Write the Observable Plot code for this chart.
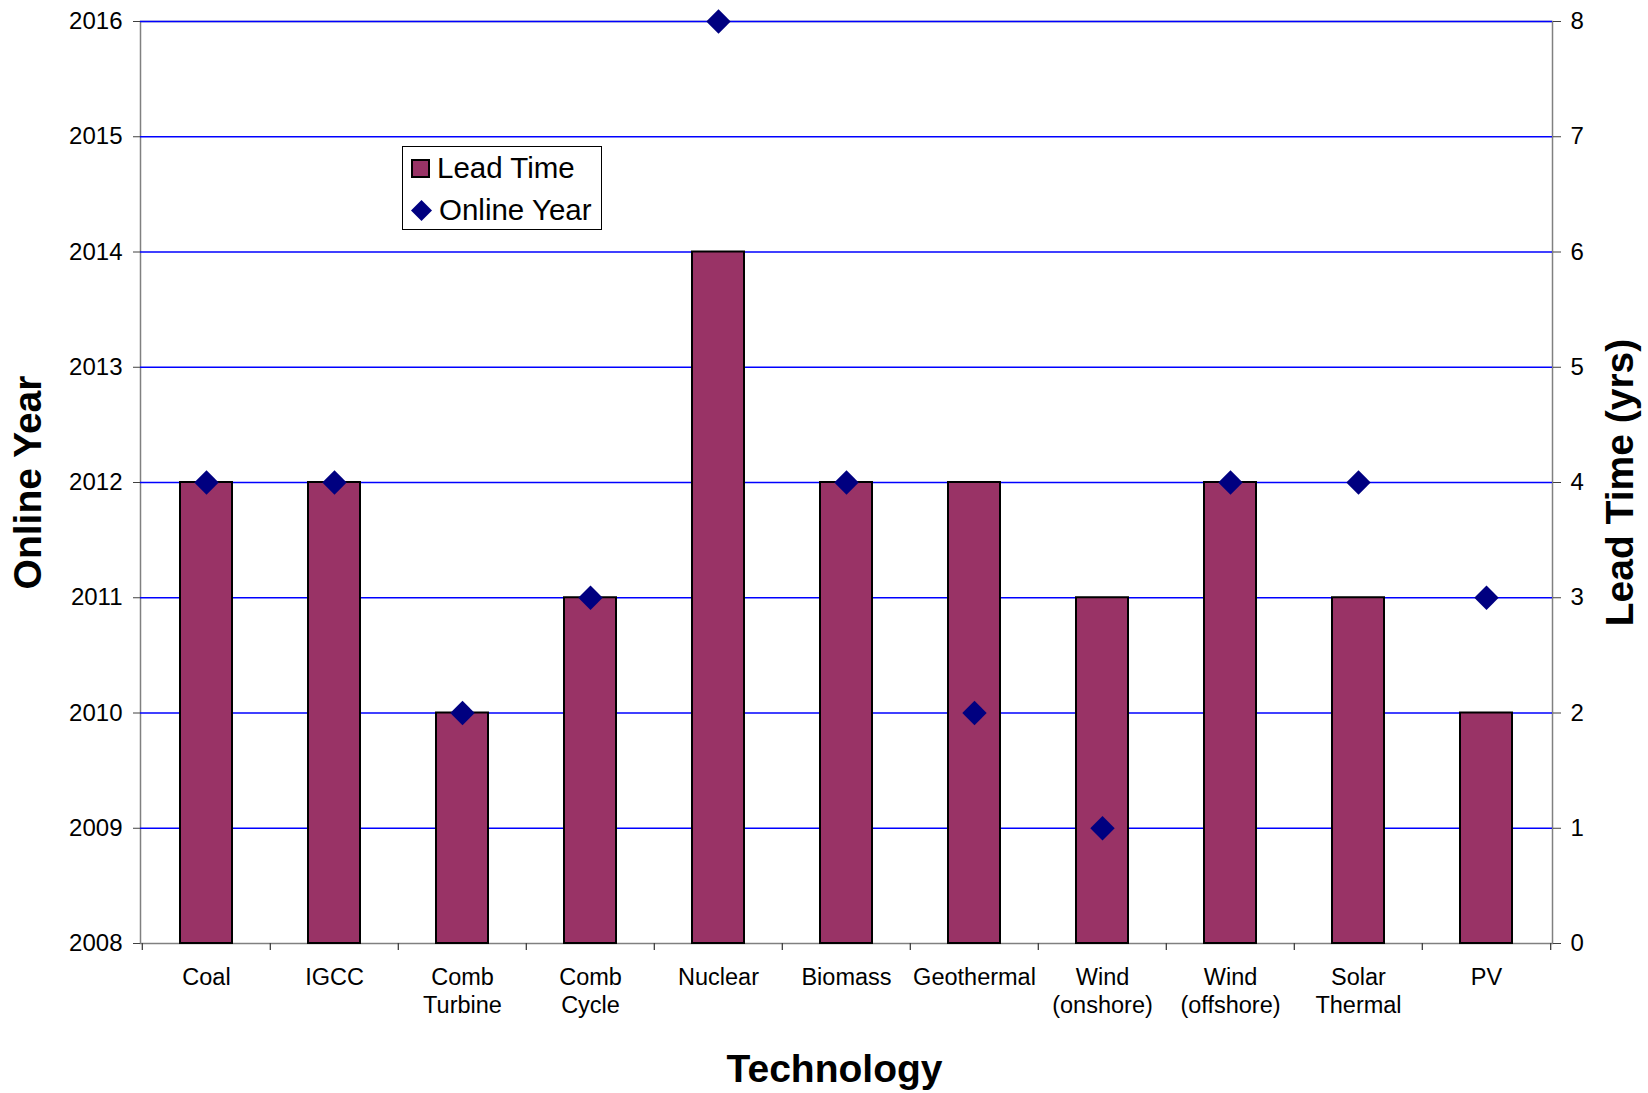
<!DOCTYPE html>
<html>
<head>
<meta charset="utf-8">
<script src="https://cdn.jsdelivr.net/npm/d3@7"></script>
<script src="https://cdn.jsdelivr.net/npm/@observablehq/plot@0.6"></script>
<style>
  html, body { margin: 0; padding: 0; background: #fff; }
  #wrap { position: relative; width: 1648px; height: 1093px; font-family: "Liberation Sans", Arial, sans-serif; }
  #legend { position: absolute; left: 402px; top: 146px; width: 200px; height: 84px; border: 1px solid #000; background: #fff; box-sizing: border-box; font-size: 29.5px; color: #000; }
  #legend .item { position: absolute; left: 8px; height: 34px; display: flex; align-items: center; white-space: nowrap; }
  #legend svg { display: block; margin-right: 7px; }
</style>
</head>
<body>
<div id="wrap">
  <div id="chart"></div>
  <div id="legend">
    <div class="item" style="top:4px;"><svg width="19" height="19"><rect x="1" y="1" width="17" height="17" fill="#993366" stroke="#000" stroke-width="2"/></svg><span>Lead Time</span></div>
    <div class="item" style="top:46px;"><svg width="21" height="21"><path d="M10.5 0 L21 10.5 L10.5 21 L0 10.5 Z" fill="#000080"/></svg><span>Online Year</span></div>
  </div>
</div>
<script>
const technologies = ["Coal", "IGCC", "Comb Turbine", "Comb Cycle", "Nuclear", "Biomass", "Geothermal", "Wind (onshore)", "Wind (offshore)", "Solar Thermal", "PV"];
const techLabels = ["Coal", "IGCC", "Comb\nTurbine", "Comb\nCycle", "Nuclear", "Biomass", "Geothermal", "Wind\n(onshore)", "Wind\n(offshore)", "Solar\nThermal", "PV"];
const leadTime = [4, 4, 2, 3, 6, 4, 4, 3, 4, 3, 2];
const onlineYear = [2012, 2012, 2010, 2011, 2016, 2012, 2010, 2009, 2012, 2012, 2011];
const baseYear = 2008;
const yearTicks = [2008, 2009, 2010, 2011, 2012, 2013, 2014, 2015, 2016];
const gridYears = [2009, 2010, 2011, 2012, 2013, 2014, 2015, 2016];

const rows = technologies.map((t, i) => ({tech: t, label: techLabels[i], lead: leadTime[i], year: onlineYear[i]}));

const W = 1648, H = 1093;
const mL = 140, mR = 96, mT = 21, mB = 150;
const step = (W - mL - mR) / technologies.length;

const chart = Plot.plot({
  width: W,
  height: H,
  marginLeft: mL,
  marginRight: mR,
  marginTop: mT,
  marginBottom: mB,
  style: {fontFamily: "Liberation Sans, Arial, sans-serif", fontSize: "24px", color: "#000", background: "#fff"},
  x: {type: "band", domain: technologies, padding: 0, axis: null},
  y: {domain: [baseYear, 2016], axis: null},
  marks: [
    Plot.frame({stroke: "#808080", strokeWidth: 1.5}),
    Plot.ruleY(gridYears, {stroke: "#0000ff", strokeWidth: 1.3}),
    Plot.barY(rows, {x: "tech", y1: baseYear, y2: d => baseYear + d.lead, fill: "#993366", stroke: "#000", strokeWidth: 2, insetLeft: 38, insetRight: 38}),
    Plot.dot(rows, {x: "tech", y: "year", symbol: "diamond2", r: 11, fill: "#000080", stroke: "none"}),
    Plot.axisY({anchor: "left", label: null, ticks: yearTicks, tickSize: 7, tickPadding: 11, stroke: "#404040", tickFormat: d => String(d)}),
    Plot.axisY({anchor: "right", label: null, ticks: yearTicks, tickSize: 8, tickPadding: 10, stroke: "#404040", tickFormat: d => String(d - baseYear)}),
    Plot.ruleX(technologies, {x: d => d, y1: baseYear, y2: baseYear, insetBottom: -7, dx: -step / 2, stroke: "#404040", strokeWidth: 1.3}),
    Plot.ruleX([technologies[technologies.length - 1]], {x: d => d, y1: baseYear, y2: baseYear, insetBottom: -7, dx: step / 2, stroke: "#404040", strokeWidth: 1.3}),
    Plot.text(rows, {x: "tech", text: "label", frameAnchor: "bottom", lineAnchor: "top", dy: 22, lineHeight: 1.19, fontSize: 23.5, fill: "#000"}),
    Plot.text(["Online Year"], {text: d => d, frameAnchor: "left", textAnchor: "middle", lineAnchor: "middle", rotate: -90, dx: -111.5, fontSize: 39, fontWeight: "bold", fill: "#000"}),
    Plot.text(["Lead Time (yrs)"], {text: d => d, frameAnchor: "right", textAnchor: "middle", lineAnchor: "middle", rotate: -90, dx: 68, fontSize: 39, fontWeight: "bold", fill: "#000"}),
    Plot.text(["Technology"], {text: d => d, frameAnchor: "bottom", textAnchor: "middle", lineAnchor: "middle", dx: -12, dy: 126.5, fontSize: 39, fontWeight: "bold", fill: "#000"})
  ]
});
document.getElementById("chart").appendChild(chart);
</script>
</body>
</html>
